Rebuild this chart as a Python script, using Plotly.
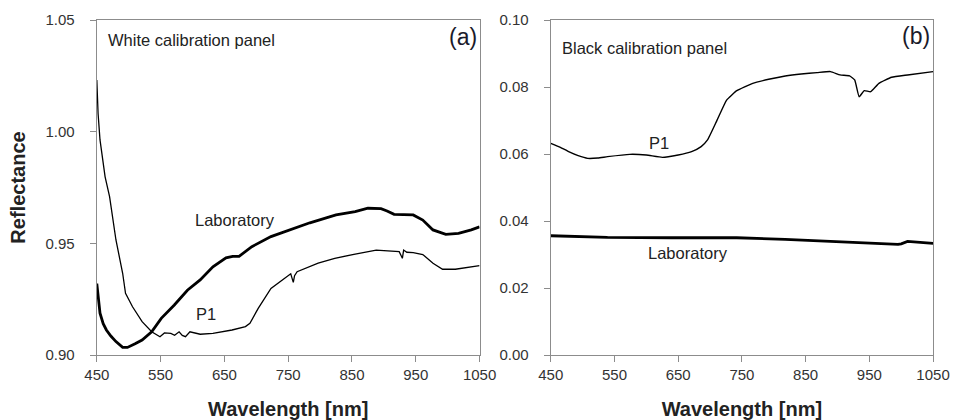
import plotly.graph_objects as go

# Panel (a) White calibration panel
wl_lab_a = [450, 452, 455, 460, 465, 472, 480, 490.5, 498, 510, 521, 536, 551, 571.5, 592, 612, 632, 652.5, 663, 673, 693, 723, 754, 784, 825, 855, 875, 895.5, 905, 916, 946, 961, 977, 997, 1017, 1037, 1050]
refl_lab_a = [0.932, 0.926, 0.9187, 0.914, 0.9112, 0.9085, 0.906, 0.9034, 0.9034, 0.905, 0.9067, 0.9104, 0.9164, 0.9224, 0.929, 0.9336, 0.9395, 0.9435, 0.9442, 0.9442, 0.9485, 0.953, 0.956, 0.9592, 0.9627, 0.9642, 0.9657, 0.9655, 0.9645, 0.963, 0.9627, 0.9604, 0.956, 0.954, 0.9545, 0.956, 0.9574]

wl_p1_a = [450, 452, 455, 460, 463, 470, 480, 490.5, 495, 506, 521, 536, 549, 556, 566, 572, 579, 584, 589, 596, 612, 632, 662, 683, 690, 703, 723, 754, 758, 760, 764, 797, 823, 853, 888, 924, 929, 931, 936, 946, 961, 977, 992, 1012, 1027, 1050]
refl_p1_a = [1.0231, 1.008, 0.9963, 0.985, 0.9798, 0.9709, 0.9515, 0.9366, 0.9276, 0.9216, 0.9149, 0.9104, 0.9082, 0.9099, 0.9097, 0.9088, 0.9104, 0.9088, 0.9082, 0.9104, 0.9093, 0.9097, 0.9112, 0.9127, 0.9142, 0.9209, 0.9298, 0.9364, 0.9325, 0.9355, 0.9373, 0.9411, 0.9433, 0.9451, 0.947, 0.9463, 0.9433, 0.947, 0.946, 0.9458, 0.945, 0.9411, 0.9384, 0.9384, 0.939, 0.940]

# Panel (b) Black calibration panel
wl_p1_b = [450, 465, 478, 493, 508, 524, 539, 574, 600, 625, 650, 671, 686, 696, 711, 726, 742, 767, 792, 818, 843, 868, 889, 904, 919, 927, 934, 942, 952, 965, 985, 1010, 1050]
refl_p1_b = [0.0632, 0.062, 0.0607, 0.0595, 0.0587, 0.0588, 0.0592, 0.0599, 0.0597, 0.059, 0.0597, 0.0607, 0.0622, 0.0642, 0.0701, 0.0761, 0.0789, 0.0811, 0.0823, 0.0833, 0.0839, 0.0843, 0.0846, 0.0836, 0.0833, 0.0821, 0.0771, 0.0789, 0.0786, 0.0811, 0.0829, 0.0836, 0.0846]

wl_lab_b = [450, 539, 640, 742, 818, 894, 944, 995, 1000, 1010, 1050]
refl_lab_b = [0.0356, 0.0351, 0.035, 0.035, 0.0345, 0.0339, 0.0335, 0.033, 0.0332, 0.0339, 0.0333]

x_ticks = [450, 550, 650, 750, 850, 950, 1050]

fig = go.Figure()
fig.add_trace(go.Scatter(x=wl_lab_a, y=refl_lab_a, mode="lines", line=dict(color="black", width=2.8), xaxis="x", yaxis="y"))
fig.add_trace(go.Scatter(x=wl_p1_a, y=refl_p1_a, mode="lines", line=dict(color="black", width=1.3), xaxis="x", yaxis="y"))
fig.add_trace(go.Scatter(x=wl_p1_b, y=refl_p1_b, mode="lines", line=dict(color="black", width=1.4, shape="spline", smoothing=0.4), xaxis="x2", yaxis="y2"))
fig.add_trace(go.Scatter(x=wl_lab_b, y=refl_lab_b, mode="lines", line=dict(color="black", width=2.8), xaxis="x2", yaxis="y2"))

font = "Liberation Sans, Arial, sans-serif"
axis_common = dict(showgrid=False, zeroline=False, showline=True, linecolor="#8c8c8c", linewidth=1.4,
                   mirror=True, ticks="outside", ticklen=6, tickwidth=1.3, tickcolor="#8c8c8c",
                   tickfont=dict(family=font, size=15, color="#333"))
title_font = dict(family=font, size=20, color="#222")

fig.update_layout(
    width=967, height=420,
    margin=dict(l=0, r=0, t=20, b=65),
    paper_bgcolor="white", plot_bgcolor="white",
    showlegend=False,
    xaxis=dict(domain=[86.5/967, 481.5/967], range=[450, 1050], tickvals=x_ticks, anchor="y", ticklabelstandoff=0,
               title=dict(text="<b>Wavelength [nm]</b>", font=title_font, standoff=20),
               **axis_common),
    yaxis=dict(domain=[0, 1], range=[0.90, 1.05], tickvals=[0.90, 0.95, 1.00, 1.05], tickformat=".2f", anchor="x",
               ticklabelstandoff=12,
               title=dict(text="<b>Reflectance</b>", font=title_font, standoff=14),
               **axis_common),
    xaxis2=dict(domain=[555/967, 949.5/967], range=[450, 1050], tickvals=x_ticks, anchor="y2", ticklabelstandoff=0,
                title=dict(text="<b>Wavelength [nm]</b>", font=title_font, standoff=20),
                **axis_common),
    yaxis2=dict(domain=[0, 1], range=[0, 0.10], tickvals=[0, 0.02, 0.04, 0.06, 0.08, 0.10], tickformat=".2f", anchor="x2",
                ticklabelstandoff=12,
                **axis_common),
)

ann_font = dict(family=font, size=16.5, color="#222")
label_font = dict(family=font, size=23, color="#1a1a2a")
annotations = [
    dict(x=465, y=1.0409, xref="x", yref="y", text="White calibration panel", showarrow=False, xanchor="left", font=ann_font),
    dict(x=1049, y=1.0423, xref="x", yref="y", text="(a)", showarrow=False, xanchor="right", font=label_font),
    dict(x=666, y=0.9604, xref="x", yref="y", text="Laboratory", showarrow=False, font=ann_font),
    dict(x=621, y=0.9184, xref="x", yref="y", text="P1", showarrow=False, font=ann_font),
    dict(x=465, y=0.0916, xref="x2", yref="y2", text="Black calibration panel", showarrow=False, xanchor="left", font=ann_font),
    dict(x=1049, y=0.0951, xref="x2", yref="y2", text="(b)", showarrow=False, xanchor="right", font=label_font),
    dict(x=620, y=0.0633, xref="x2", yref="y2", text="P1", showarrow=False, font=ann_font),
    dict(x=666, y=0.0304, xref="x2", yref="y2", text="Laboratory", showarrow=False, font=ann_font),
]
fig.update_layout(annotations=annotations)

fig.write_html("out.html")
